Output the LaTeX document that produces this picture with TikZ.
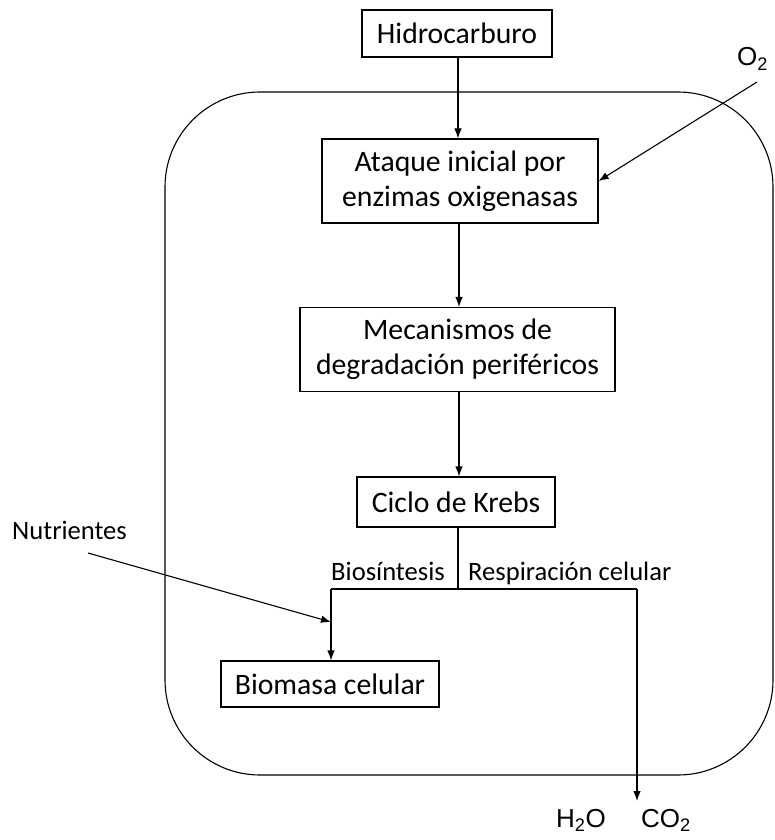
\documentclass[tikz,border=0pt]{standalone}
\usepackage{fontspec}
\setmainfont{Carlito}
\newfontfamily\arialf{Liberation Sans}
\usetikzlibrary{arrows.meta}
\begin{document}
\begin{tikzpicture}[x=1pt,y=-1pt,
  box/.style={draw, line width=1.1pt, inner sep=0pt, align=center, font=\fontsize{29.7}{35}\selectfont},
  lbl/.style={inner sep=0pt, font=\fontsize{26.6}{31}\selectfont},
  chem/.style={inner sep=0pt, font=\arialf\fontsize{26}{30}\selectfont},
  conn/.style={line width=1.1pt},
  arr/.style={conn, -{Latex[length=10pt,width=7.5pt]}}]
\useasboundingbox (0,0) rectangle (775,840);
\draw[line width=1.1pt, rounded corners=95] (165,92) rectangle (773,775);
\node[box, minimum width=190, minimum height=47] (hc) at (457,33.5) {Hidrocarburo};
\node[box, minimum width=276, minimum height=84] (at) at (460,181) {Ataque inicial por\\enzimas oxigenasas};
\node[box, minimum width=315, minimum height=84] (me) at (457.5,349.5) {Mecanismos de\\degradación periféricos};
\node[box, minimum width=198, minimum height=50] (kr) at (456,502) {Ciclo de Krebs};
\node[box, minimum width=218, minimum height=46] (bio) at (330,684) {Biomasa celular};
\node[chem, anchor=base] (o2) at (752.5,66) {O\textsubscript{2}};
\node[chem, anchor=base] (h2o) at (581,827) {H\textsubscript{2}O};
\node[chem, anchor=base] (co2) at (666,827) {CO\textsubscript{2}};
\node[lbl, anchor=base west] (nut) at (12,539) {Nutrientes};
\node[lbl, anchor=base east] (bios) at (445,580) {Biosíntesis};
\node[lbl, anchor=base west] (resp) at (468,580) {Respiración celular};
\coordinate (bl) at (331,589);
\coordinate (br) at (637,589);
\coordinate (out) at (637,801);
\coordinate (ostart) at (757,82);
\coordinate (nstart) at (88,553);
\coordinate (nend) at (331,622);
\draw[arr] (hc.south -| 458,0) -- (at.north -| 458,0);
\draw[arr] (ostart) -- (at.east);
\draw[arr] (at.south -| 459,0) -- (me.north -| 459,0);
\draw[arr] (me.south -| 459,0) -- (kr.north -| 459,0);
\draw[conn] (kr.south -| 458,0) -- (458,589);
\draw[conn] (bl) -- (br);
\draw[arr] (bl) -- (bl |- bio.north);
\draw[arr] (br) -- (out);
\draw[arr] (nstart) -- (nend);
\end{tikzpicture}
\end{document}
